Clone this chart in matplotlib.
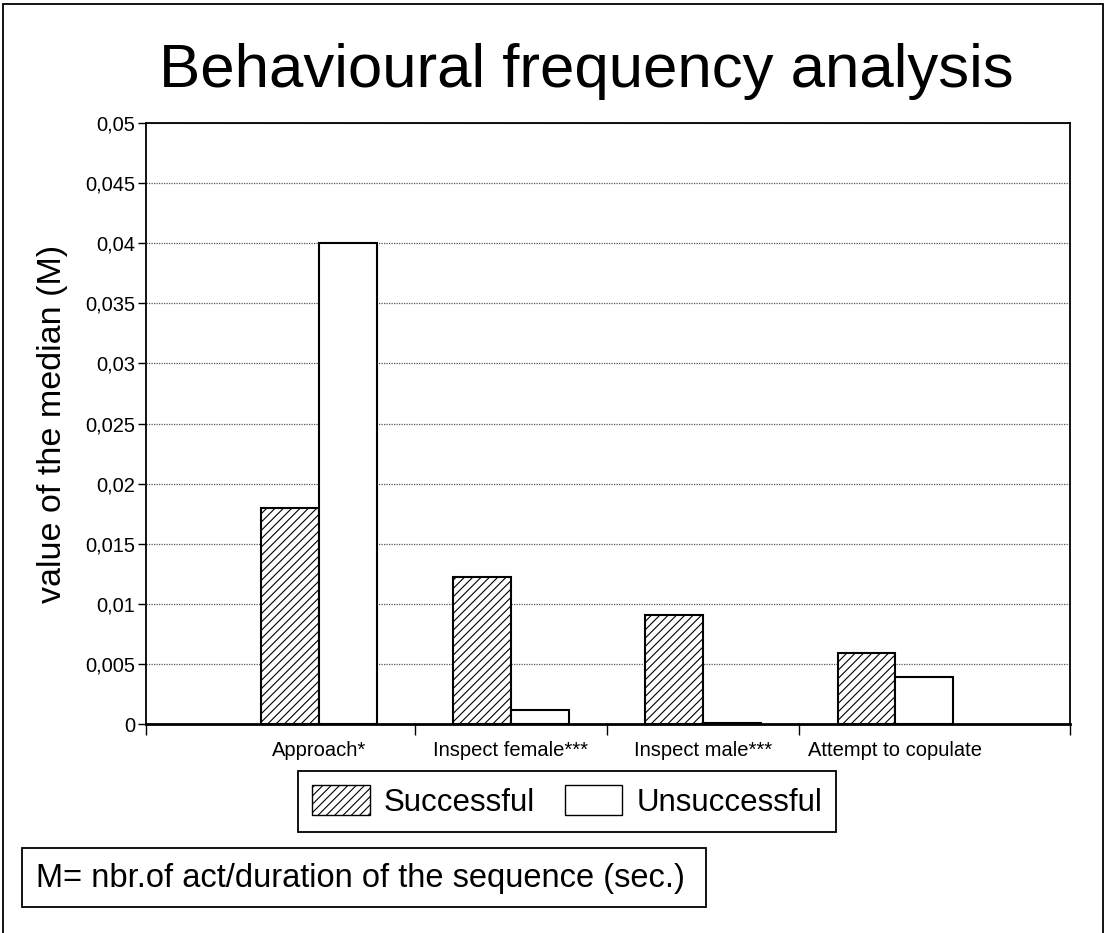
import matplotlib
matplotlib.use("Agg")
import matplotlib.pyplot as plt
from matplotlib.patches import Rectangle, Patch
from matplotlib.ticker import FuncFormatter, FixedLocator

plt.rcParams['font.family'] = ['Liberation Sans', 'DejaVu Sans']
plt.rcParams['hatch.linewidth'] = 0.8

# data
categories = ["Approach*", "Inspect female***", "Inspect male***", "Attempt to copulate"]
successful = [0.018, 0.0122, 0.0091, 0.0059]
unsuccessful = [0.040, 0.0012, 0.0001, 0.0039]
y_ticks = [0, 0.005, 0.01, 0.015, 0.02, 0.025, 0.03, 0.035, 0.04, 0.045, 0.05]

W, H = 1110, 933
fig = plt.figure(figsize=(W / 100, H / 100), dpi=100)
ax = fig.add_axes([146 / W, 1 - 724 / H, (1070 - 146) / W, (724 - 123) / H])

x = list(range(1, len(categories) + 1))
bw = 0.30
ax.bar([i - bw / 2 for i in x], successful, width=bw, color="white",
       edgecolor="black", hatch="////", linewidth=1.5, zorder=3, label="Successful")
ax.bar([i + bw / 2 for i in x], unsuccessful, width=bw, color="white",
       edgecolor="black", linewidth=1.5, zorder=3, label="Unsuccessful")

xl = (0.1, 4.91)
ax.set_xlim(*xl)
ax.set_ylim(0, 0.05)
ax.set_yticks(y_ticks)
ax.yaxis.set_major_formatter(FuncFormatter(lambda v, p: ("%g" % v).replace(".", ",")))
ax.tick_params(axis="y", labelsize=14.5, length=6, width=1, direction="out", pad=2)

ax.set_xticks(x)
ax.set_xticklabels(categories)
ax.tick_params(axis="x", which="major", length=0, labelsize=14.5, pad=12)
ax.xaxis.set_minor_locator(FixedLocator([xl[0], 1.5, 2.5, 3.5, xl[1]]))
ax.tick_params(axis="x", which="minor", length=8, width=1, direction="out")

ax.yaxis.grid(True, linestyle=(0, (1, 1)), color="#555555", linewidth=0.9, zorder=0)
for s in ax.spines.values():
    s.set_linewidth(1.3)
ax.spines["bottom"].set_linewidth(2)

ax.set_ylabel("value of the median (M)", fontsize=24.5, labelpad=12)

fig.text(586.5 / W, 1 - 87 / H, "Behavioural frequency analysis", fontsize=44.5,
         ha="center", va="baseline")

handles = [Patch(facecolor="white", edgecolor="black", hatch="////", linewidth=1),
           Patch(facecolor="white", edgecolor="black", linewidth=1)]
leg = fig.legend(handles, ["Successful", "Unsuccessful"], ncol=2, loc="center",
                 bbox_to_anchor=(567 / W, 1 - 801.5 / H), fontsize=22.5, frameon=True,
                 fancybox=False, edgecolor="black", framealpha=1, handlelength=1.85,
                 handleheight=1.1, handletextpad=0.45, columnspacing=0.95, borderpad=0.45)
leg.get_frame().set_linewidth(1.3)

# note box and outer frame
fig.patches.append(Rectangle((22 / W, 1 - 907 / H), (706 - 22) / W, (907 - 848) / H,
                             transform=fig.transFigure, fill=False, edgecolor="black",
                             linewidth=1.3))
fig.text(36 / W, 1 - 878 / H, "M= nbr.of act/duration of the sequence (sec.)",
         fontsize=23.5, ha="left", va="center")
fig.patches.append(Rectangle((3 / W, -0.05), (1103 - 3) / W, 1.05 - 4 / H,
                             transform=fig.transFigure, fill=False, edgecolor="black",
                             linewidth=1.3))

fig.savefig("out.png", dpi=100)
